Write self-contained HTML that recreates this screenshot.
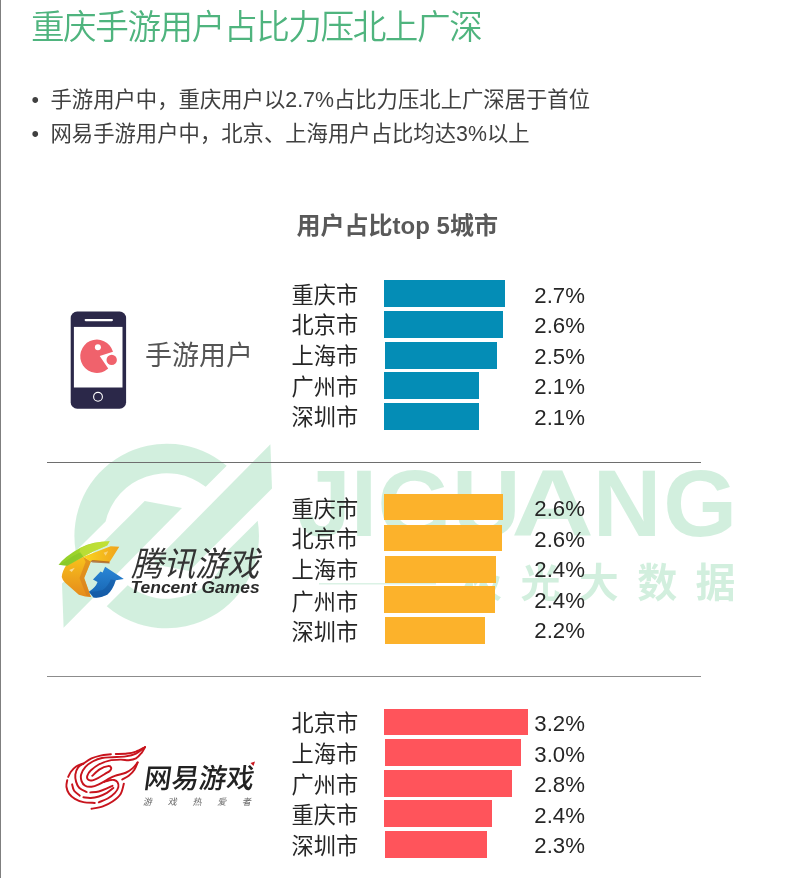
<!DOCTYPE html>
<html lang="zh-CN">
<head>
<meta charset="utf-8">
<title>重庆手游用户占比力压北上广深</title>
<style>
  html, body { margin: 0; padding: 0; background: #ffffff; }
  body {
    width: 791px; height: 878px; position: relative; overflow: hidden;
    font-family: "Liberation Sans", "Noto Sans CJK SC", sans-serif;
    color: #262626;
  }
  .abs { position: absolute; white-space: nowrap; }
  #edge { left: 0; top: 0; width: 1px; height: 878px; background: #7f7f7f; }
  #title {
    left: 30.9px; top: 3.6px; font-size: 33.6px; line-height: 48px; font-weight: 350;
    color: #4fb47e; letter-spacing: -1.4px;
  }
  .bul { font-size: 21.35px; line-height: 32px; color: #404040; font-weight: 400; }
  .bul .dot { position: absolute; left: -19px; top: 0; }
  #ctitle {
    left: 296.6px; top: 208.5px; font-size: 24px; line-height: 34px; font-weight: 700; color: #595959;
  }
  .city { left: 291.6px; font-size: 22.2px; line-height: 30px; margin-top: 1.6px; color: #262626; }
  .val  { left: 534.3px; font-size: 22.2px; line-height: 30px; color: #262626; margin-top: 1.2px; }
  .bar  { position: absolute; height: 26.8px; }
  .b1 { background: #048db6; }
  .b2 { background: #fcb22b; }
  .b3 { background: #ff545b; }
  .sep { position: absolute; left: 47px; width: 654px; height: 1px; }
  #uname { left: 145px; top: 336.5px; font-size: 27px; line-height: 38px; color: #555555; font-weight: 400; }
  svg { position: absolute; left: 0; top: 0; overflow: visible; }
</style>
</head>
<body>

<!-- watermark -->
<svg id="wm" width="791" height="878" viewBox="0 0 791 878">
  <g fill="#4bbf7a" opacity="0.245">
    <path d="M 226.7 465.8 A 92.3 92.3 0 0 0 75.7 551.3 L 105.6 521.4 A 62.8 62.8 0 0 1 205.7 486.8 Z"/>
    <path d="M 106.7 606.2 A 92.3 92.3 0 0 0 257.7 520.7 L 227.8 550.6 A 62.8 62.8 0 0 1 127.7 585.2 Z"/>
    <polygon points="144.7,501.0 182.0,508.0 63.6,627.8 62.0,583.6"/>
    <polygon points="189.3,571.0 152.0,564.0 270.4,444.2 272.0,488.4"/>
    <text y="535.8" font-family="'Liberation Sans',sans-serif" font-weight="700" font-size="95"><tspan x="298 350.7 377.5 452.1">JIGU</tspan><tspan x="511.3" textLength="82.7" lengthAdjust="spacingAndGlyphs">A</tspan><tspan x="592.8 663.3">NG</tspan></text>
    <rect x="319" y="583.2" width="117" height="1.2"/>
    <text y="597" font-family="'Liberation Sans','Noto Sans CJK SC',sans-serif" font-weight="700" font-size="40"
          x="462 520.4 578.8 637.2 695.6">极光大数据</text>
  </g>
</svg>

<!-- logos -->
<svg id="logos" width="791" height="878" viewBox="0 0 791 878">
  <defs>
    <linearGradient id="gOr" x1="0" y1="0" x2="0" y2="1">
      <stop offset="0" stop-color="#f8c21c"/><stop offset="1" stop-color="#e58a1c"/>
    </linearGradient>
    <linearGradient id="gYl" x1="0" y1="0" x2="1" y2="0">
      <stop offset="0" stop-color="#fad51e"/><stop offset="1" stop-color="#f0a21c"/>
    </linearGradient>
    <linearGradient id="gBl" x1="0" y1="0" x2="0" y2="1">
      <stop offset="0" stop-color="#2a86d6"/><stop offset="1" stop-color="#1663b0"/>
    </linearGradient>
    <linearGradient id="gGr" x1="0" y1="0" x2="1" y2="0">
      <stop offset="0" stop-color="#8fcf2a"/><stop offset="1" stop-color="#b7dc2e"/>
    </linearGradient>
  </defs>

  <!-- phone icon -->
  <g id="phone">
    <rect x="70.7" y="311.6" width="55.4" height="97.1" rx="6.5" ry="6.5" fill="#2b2849"/>
    <rect x="73.9" y="326.9" width="48.6" height="60.6" fill="#ffffff"/>
    <rect x="84.6" y="319" width="28.4" height="2.2" rx="1.1" fill="#ffffff"/>
    <circle cx="98" cy="396.8" r="4.4" fill="none" stroke="#ffffff" stroke-width="1.1"/>
    <path d="M 99.7 356.0 L 113.0 351.8 A 16.7 16.7 0 1 0 108.2 368.6 Z" fill="#f0626c"/>
    <circle cx="111.7" cy="359.9" r="5.2" fill="#f0626c"/>
    <circle cx="97.9" cy="347.2" r="3" fill="#ffffff"/>
  </g>

  <!-- Tencent Games logo -->
  <g id="tencent">
    <g transform="translate(50,535) scale(0.101138)">
      <path d="M 160 300 Q 118 365 116 415 Q 124 448 150 472 L 285 590 Q 350 612 405 614 L 338 425 L 405 262 L 330 215 Z" fill="url(#gOr)"/>
      <path d="M 330 215 L 405 262 L 338 425 L 405 614 L 362 604 L 292 425 L 352 268 Z" fill="#d57d1c" opacity="0.6"/>
      <path d="M 330 215 L 600 112 L 685 115 L 585 275 L 420 255 L 400 262 Z" fill="url(#gYl)"/>
      <path d="M 400 262 L 420 248 L 585 262 L 590 282 L 420 272 Z" fill="#a85a1c" opacity="0.75"/>
      <path d="M 85 295 Q 140 215 300 125 Q 430 62 590 62 L 565 105 Q 450 150 330 215 L 170 305 Z" fill="url(#gGr)"/>
      <path d="M 300 128 Q 430 64 590 62 L 565 105 Q 450 150 330 215 L 290 170 Z" fill="#c8e23c" opacity="0.6"/>
      <path d="M 150 262 Q 230 200 300 170 L 330 215 L 170 305 L 85 295 Z" fill="#7fc22a" opacity="0.5"/>
      <path d="M 545 315 L 730 435 L 650 447 Q 622 540 565 592 Q 500 626 430 618 L 385 560 Q 452 520 470 465 L 425 440 L 500 362 L 520 372 Z" fill="url(#gBl)"/>
      <path d="M 650 447 Q 622 540 565 592 Q 500 626 430 618 L 385 560 Q 440 568 520 545 Q 580 500 600 440 Z" fill="#12509a" opacity="0.45"/>
      <path d="M 190 345 L 245 325 L 215 365 Z" fill="#ffffff" opacity="0.55"/>
      <path d="M 530 175 L 575 160 L 550 205 Z" fill="#ffffff" opacity="0.4"/>
    </g>
    <text transform="translate(131,575.8) skewX(-14)" font-family="'Liberation Sans','Noto Sans CJK SC',sans-serif" font-weight="400" font-size="34" fill="#333333" textLength="128" lengthAdjust="spacingAndGlyphs">腾讯游戏</text>
    <text x="130.6" y="593" font-family="'Liberation Sans',sans-serif" font-weight="700" font-style="italic" font-size="15.8" fill="#2a2a2a" textLength="129" lengthAdjust="spacingAndGlyphs">Tencent Games</text>
  </g>

  <!-- NetEase Games logo -->
  <g id="netease">
    <g transform="translate(64,756) scale(0.0809)" fill="none" stroke="#c8141d" stroke-width="24" stroke-linecap="round">
      <path d="M 350 245 C 365 232, 408 185, 440 165 C 472 145, 521 128, 545 125 C 569 122, 580 135, 583 145 C 586 155, 579 172, 565 185 C 551 198, 524 210, 500 225 C 476 240, 447 259, 420 272 C 393 285, 361 300, 340 303 C 319 306, 304 300, 295 290 C 286 280, 282 263, 288 245 C 294 227, 306 203, 330 180 C 354 157, 392 126, 430 105 C 468 84, 515 67, 560 57 C 605 47, 660 46, 700 45 C 740 44, 768 54, 800 52 C 832 50, 863 45, 890 30 C 917 15, 941 -17, 960 -40 C 979 -63, 995 -98, 1002 -110"/>
      <path d="M 910 80 C 900 92, 874 129, 850 150 C 826 171, 800 191, 763 207 C 726 223, 666 231, 629 245 C 592 259, 573 272, 540 290 C 507 308, 463 335, 430 350 C 397 365, 368 377, 340 380 C 312 383, 282 380, 262 368 C 242 356, 225 333, 217 310 C 209 287, 204 259, 212 230 C 220 201, 240 162, 265 135 C 290 108, 326 83, 360 65 C 394 47, 430 33, 470 25 C 510 17, 551 18, 600 15 C 649 12, 715 12, 763 5 C 811 -2, 853 -12, 890 -30 C 927 -48, 969 -88, 985 -100"/>
      <path d="M 240 95 C 257 84, 305 47, 340 30 C 375 13, 410 4, 450 -5 C 490 -14, 558 -19, 580 -22"/>
      <path d="M 640 -25 C 663 -26, 738 -25, 780 -30 C 822 -35, 853 -42, 890 -55 C 927 -68, 983 -101, 1002 -110"/>
      <path d="M 240 95 C 229 102, 192 118, 175 140 C 158 162, 144 200, 140 230 C 136 260, 142 292, 150 320 C 158 348, 168 374, 190 395 C 212 416, 265 437, 280 445"/>
      <path d="M 325 450 C 342 448, 396 446, 430 438 C 464 430, 502 412, 530 400 C 558 388, 588 373, 600 368"/>
      <path d="M 235 93 C 221 99, 175 113, 150 130 C 125 147, 101 174, 85 195 C 69 216, 58 248, 52 258"/>
      <path d="M 40 300 C 38 313, 26 352, 30 380 C 34 408, 44 440, 62 465 C 80 490, 105 512, 135 530 C 165 548, 199 562, 240 570 C 281 578, 357 578, 380 580"/>
      <path d="M 100 350 C 104 363, 109 407, 125 430 C 141 453, 183 480, 195 490"/>
      <path d="M 240 510 C 255 511, 298 520, 330 518 C 362 516, 397 510, 430 500 C 463 490, 500 472, 530 455 C 560 438, 597 405, 610 395"/>
      <path d="M 430 572 C 448 564, 507 544, 540 525 C 573 506, 608 478, 630 455 C 652 432, 667 407, 672 385 C 677 363, 671 340, 662 325 C 653 310, 637 301, 620 297 C 603 293, 580 296, 560 300 C 540 304, 510 317, 500 320"/>
      <path d="M 340 652 C 363 647, 437 637, 480 622 C 523 607, 563 587, 600 562 C 637 537, 677 507, 700 470 C 723 433, 733 363, 740 342"/>
      <path d="M 720 290 C 733 282, 775 265, 800 245 C 825 225, 852 198, 870 170 C 888 142, 903 95, 910 80"/>
    </g>
    <text transform="translate(143,787.8) skewX(-8)" font-family="'Liberation Sans','Noto Sans CJK SC',sans-serif" font-weight="500" font-size="27.5" fill="#222222" textLength="110" lengthAdjust="spacingAndGlyphs">网易游戏</text>
    <polygon points="250.5,763 255,761.5 253.5,766" fill="#c9151e"/>
    <text transform="translate(143,804.5) skewX(-12)" font-family="'Liberation Sans','Noto Sans CJK SC',sans-serif" font-weight="400" font-size="9" fill="#666666" textLength="108" lengthAdjust="spacing">游戏热爱者</text>
  </g>
</svg>


<div id="edge" class="abs"></div>

<div id="title" class="abs">重庆手游用户占比力压北上广深</div>

<div class="abs bul" style="left:50.5px; top:84px;"><span class="dot">•</span>手游用户中，重庆用户以2.7%占比力压北上广深居于首位</div>
<div class="abs bul" style="left:50.5px; top:118.2px;"><span class="dot">•</span>网易手游用户中，北京、上海用户占比均达3%以上</div>

<div id="ctitle" class="abs">用户占比top 5城市</div>

<div id="uname" class="abs">手游用户</div>

<!-- section 1 -->
<div class="abs city" style="top:279px;">重庆市</div>
<div class="abs city" style="top:309.7px;">北京市</div>
<div class="abs city" style="top:340.4px;">上海市</div>
<div class="abs city" style="top:371.1px;">广州市</div>
<div class="abs city" style="top:401.8px;">深圳市</div>
<div class="bar b1" style="left:384px; top:280.1px; width:121.1px;"></div>
<div class="bar b1" style="left:384px; top:310.9px; width:119px;"></div>
<div class="bar b1" style="left:385px; top:341.8px; width:111.8px;"></div>
<div class="bar b1" style="left:384px; top:372.2px; width:94.8px;"></div>
<div class="bar b1" style="left:384px; top:403px; width:94.8px;"></div>
<div class="abs val" style="top:279.5px;">2.7%</div>
<div class="abs val" style="top:310px;">2.6%</div>
<div class="abs val" style="top:340.5px;">2.5%</div>
<div class="abs val" style="top:371px;">2.1%</div>
<div class="abs val" style="top:401.5px;">2.1%</div>

<div class="sep" style="top:462px; background:#6e6e6e;"></div>

<!-- section 2 -->
<div class="abs city" style="top:493.7px;">重庆市</div>
<div class="abs city" style="top:523.4px;">北京市</div>
<div class="abs city" style="top:554.1px;">上海市</div>
<div class="abs city" style="top:586.2px;">广州市</div>
<div class="abs city" style="top:616.5px;">深圳市</div>
<div class="bar b2" style="left:384px; top:493.7px; width:119.2px;"></div>
<div class="bar b2" style="left:384px; top:524.7px; width:118.3px;"></div>
<div class="bar b2" style="left:385px; top:556px; width:110.9px;"></div>
<div class="bar b2" style="left:384px; top:586px; width:111px;"></div>
<div class="bar b2" style="left:385px; top:616.8px; width:99.9px;"></div>
<div class="abs val" style="top:493.2px;">2.6%</div>
<div class="abs val" style="top:523.7px;">2.6%</div>
<div class="abs val" style="top:554.2px;">2.4%</div>
<div class="abs val" style="top:584.7px;">2.4%</div>
<div class="abs val" style="top:615.2px;">2.2%</div>

<div class="sep" style="top:676px; background:#8c8c8c;"></div>

<!-- section 3 -->
<div class="abs city" style="top:707.7px;">北京市</div>
<div class="abs city" style="top:738.4px;">上海市</div>
<div class="abs city" style="top:769.1px;">广州市</div>
<div class="abs city" style="top:799.8px;">重庆市</div>
<div class="abs city" style="top:830.5px;">深圳市</div>
<div class="bar b3" style="left:384px; top:708.7px; width:143.9px;"></div>
<div class="bar b3" style="left:385px; top:739.3px; width:136.2px;"></div>
<div class="bar b3" style="left:384px; top:770.2px; width:127.9px;"></div>
<div class="bar b3" style="left:384px; top:800.3px; width:108.1px;"></div>
<div class="bar b3" style="left:385px; top:831.3px; width:101.9px;"></div>
<div class="abs val" style="top:708.2px;">3.2%</div>
<div class="abs val" style="top:738.7px;">3.0%</div>
<div class="abs val" style="top:769.2px;">2.8%</div>
<div class="abs val" style="top:799.7px;">2.4%</div>
<div class="abs val" style="top:830.2px;">2.3%</div>

</body>
</html>
